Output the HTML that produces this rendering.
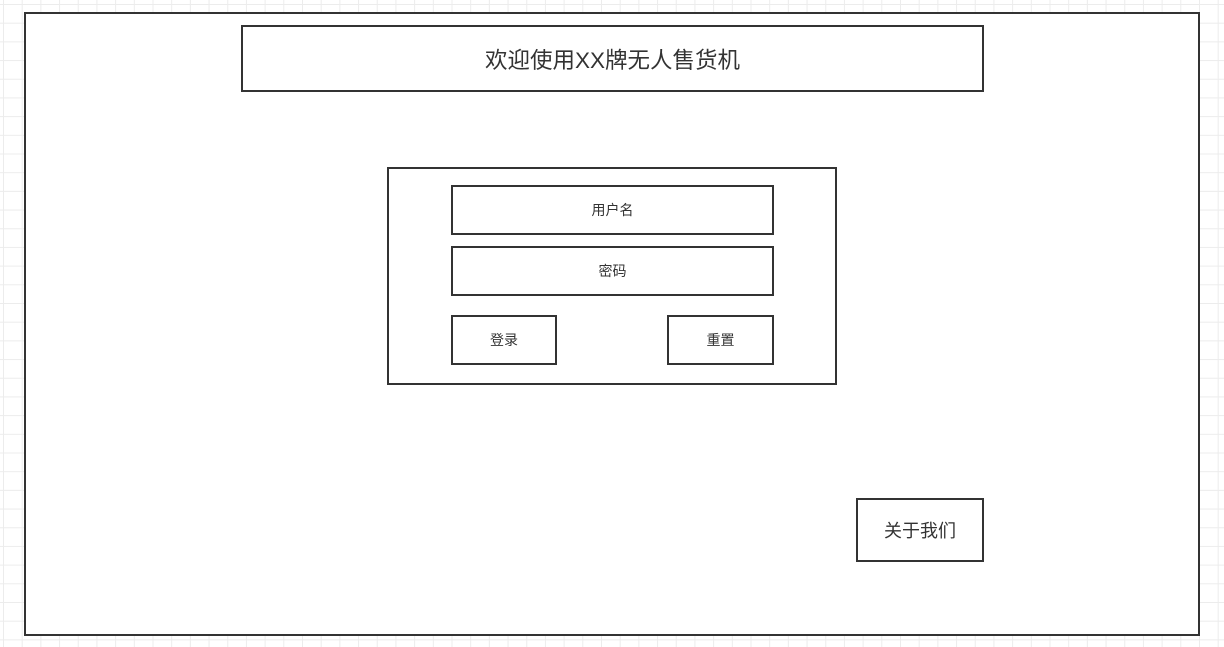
<!DOCTYPE html>
<html><head><meta charset="utf-8"><style>
body{margin:0;width:1224px;height:647px;overflow:hidden;background:#fff;
background-image:linear-gradient(#ececec 1px,transparent 1px),linear-gradient(90deg,#ececec 1px,transparent 1px);
background-size:18.7px 18.7px;background-position:3px 4px;
font-family:"Liberation Sans","Noto Sans CJK SC",sans-serif;position:relative}
.b{position:absolute;box-sizing:border-box;border:2px solid #333;background:#fff;display:flex;align-items:center;justify-content:center;color:#333}
</style></head><body>
<div class="b" style="left:24px;top:12px;width:1176px;height:624px"></div>
<div class="b" style="left:241px;top:25px;width:743px;height:67px;font-size:22.5px">欢迎使用XX牌无人售货机</div>
<div class="b" style="left:387px;top:167px;width:450px;height:218px"></div>
<div class="b" style="left:451px;top:185px;width:323px;height:50px;font-size:14px">用户名</div>
<div class="b" style="left:451px;top:246px;width:323px;height:50px;font-size:14px">密码</div>
<div class="b" style="left:451px;top:315px;width:106px;height:50px;font-size:14px">登录</div>
<div class="b" style="left:667px;top:315px;width:107px;height:50px;font-size:14px">重置</div>
<div class="b" style="left:856px;top:498px;width:128px;height:64px;font-size:18px">关于我们</div>
</body></html>
